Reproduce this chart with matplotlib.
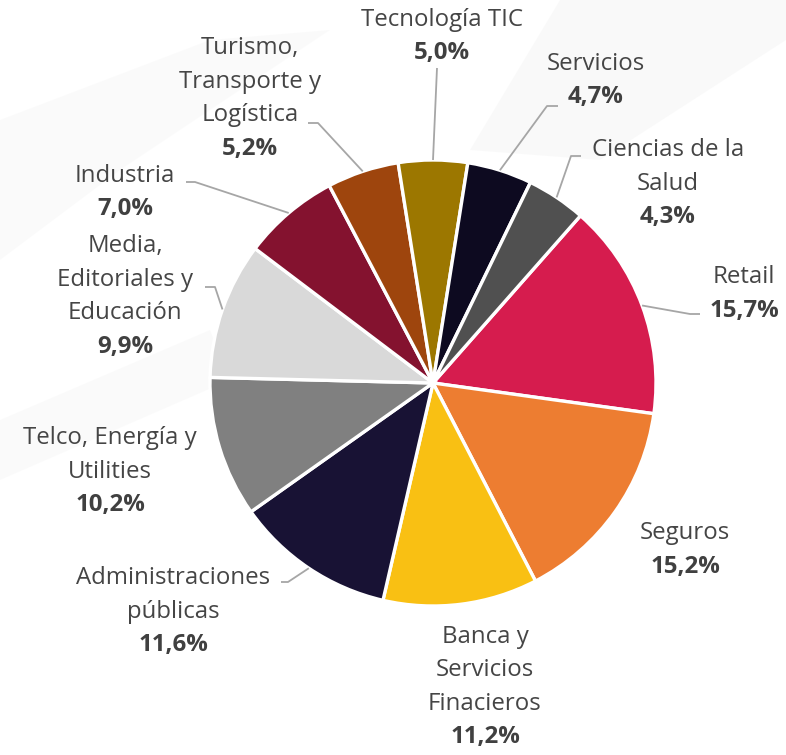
import matplotlib
matplotlib.use('Agg')
import matplotlib.pyplot as plt
from matplotlib.patches import Polygon
import numpy as np

# ---- data ----
categories = ['Retail', 'Seguros', 'Banca y\nServicios\nFinacieros', 'Administraciones\npúblicas',
              'Telco, Energía y\nUtilities', 'Media,\nEditoriales y\nEducación', 'Industria',
              'Turismo,\nTransporte y\nLogística', 'Tecnología TIC', 'Servicios', 'Ciencias de la\nSalud']
values = [15.7, 15.2, 11.2, 11.6, 10.2, 9.9, 7.0, 5.2, 5.0, 4.7, 4.3]
colors = ['#D61C4E', '#ED7D31', '#F9C013', '#181234', '#808080', '#D9D9D9',
          '#84122F', '#9E450D', '#9C7700', '#0D0A20', '#505050']

# ---- layout (pixel coordinates, y from top) ----
W, H = 786, 755
CX, CY, R = 433, 383, 223
LS = 33.5  # line spacing in px
label_pos = [(744, 277), (685, 533), (485, 637), (173, 578), (110, 438), (125, 246),
             (125, 176), (250, 48), (442, 20), (596, 64), (668, 150)]
leaders = [[(700, 314), (690, 314)], None, None, [(281, 582), (288, 582)], None,
           [(205, 287), (215, 287)], [(186, 182), (195, 182)], [(308, 123), (318, 123)],
           [(437, 68)], [(558, 106), (547, 106)], [(581, 156), (571, 156)]]

FONT = ['Open Sans', 'DejaVu Sans']
plt.rcParams['font.family'] = FONT
fig = plt.figure(figsize=(W / 100, H / 100), dpi=100)
ax = fig.add_axes([0, 0, 1, 1])

def Y(y):
    return H - y

# faint background swooshes
bg = '#F3F3F3'
ax.add_patch(Polygon([(560, Y(0)), (786, Y(0)), (786, Y(40)), (600, Y(160)), (470, Y(150))],
                     closed=True, facecolor=bg, edgecolor='none', alpha=0.45, zorder=0))
ax.add_patch(Polygon([(0, Y(120)), (210, Y(40)), (330, Y(30)), (120, Y(170)), (0, Y(260))],
                     closed=True, facecolor=bg, edgecolor='none', alpha=0.35, zorder=0))
ax.add_patch(Polygon([(0, Y(420)), (210, Y(330)), (230, Y(380)), (0, Y(480))],
                     closed=True, facecolor=bg, edgecolor='none', alpha=0.35, zorder=0))

wedges, _ = ax.pie(values, colors=colors, startangle=48.6, counterclock=False,
                   center=(CX, Y(CY)), radius=R,
                   wedgeprops=dict(edgecolor='white', linewidth=2.4))

txt_color = '#454545'
FS = 17.3
for i, (name, v) in enumerate(zip(categories, values)):
    x, y0 = label_pos[i]
    lines = name.split('\n')
    for j, ln in enumerate(lines):
        ax.text(x, Y(y0 + j * LS), ln, ha='center', va='center', fontsize=FS,
                color=txt_color, zorder=5)
    pct = f"{v:.1f}%".replace('.', ',')
    ax.text(x, Y(y0 + len(lines) * LS), pct, ha='center', va='center', fontsize=FS,
            fontweight='bold', color='#404040', zorder=5)
    if leaders[i] is not None:
        w = wedges[i]
        mid = np.deg2rad((w.theta1 + w.theta2) / 2)
        ex, ey = CX + R * np.cos(mid), Y(CY) + R * np.sin(mid)
        pts = [(px, Y(py)) for px, py in leaders[i]] + [(ex, ey)]
        xs, ys = zip(*pts)
        ax.plot(xs, ys, color='#A6A6A6', linewidth=1.3, zorder=1, solid_capstyle='butt')

ax.set_xlim(0, W)
ax.set_ylim(0, H)
ax.set_aspect('equal')
ax.axis('off')
fig.savefig('out.png', dpi=100, facecolor='white')
